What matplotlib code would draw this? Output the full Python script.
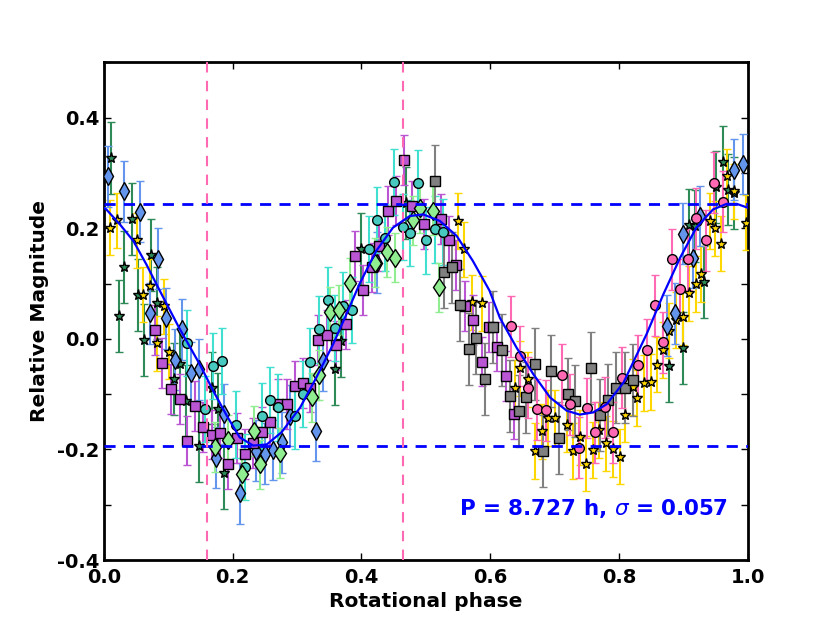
import matplotlib
matplotlib.use("Agg")
import matplotlib.pyplot as plt

# ---------------- data ----------------
gs_x = [0.011, 0.024, 0.032, 0.044, 0.053, 0.063, 0.074, 0.083, 0.109, 0.118, 0.127, 0.148,
        0.168, 0.178, 0.187, 0.359, 0.369, 0.400, 0.470, 0.878, 0.900, 0.909, 0.918, 0.932,
        0.950, 0.961, 0.969, 0.979]
gs_y = [0.327, 0.041, 0.130, 0.217, 0.080, -0.002, 0.152, 0.065, -0.073, -0.046, -0.113, -0.193,
        -0.089, -0.127, -0.243, -0.054, -0.004, 0.162, 0.246, -0.050, -0.017, 0.206, 0.204, 0.103,
        0.274, 0.320, 0.270, 0.264]
gs_err = 0.065

ys_x = [0.009, 0.020, 0.052, 0.061, 0.072, 0.083, 0.093, 0.102, 0.550, 0.559, 0.571, 0.588,
        0.639, 0.647, 0.658, 0.669, 0.681, 0.690, 0.700, 0.720, 0.729, 0.740, 0.749, 0.759,
        0.769, 0.780, 0.790, 0.801, 0.809, 0.821, 0.828, 0.839, 0.849, 0.859, 0.869, 0.878,
        0.889, 0.900, 0.909, 0.920, 0.928, 0.941, 0.949, 0.959, 0.968, 0.978, 0.997]
ys_y = [0.201, 0.214, 0.178, 0.080, 0.095, -0.008, 0.059, -0.023, 0.213, 0.162, 0.066, 0.064,
        -0.088, -0.053, -0.073, -0.203, -0.167, -0.143, -0.143, -0.155, -0.203, -0.178, -0.226, -0.201,
        -0.165, -0.189, -0.199, -0.213, -0.137, -0.087, -0.107, -0.080, -0.078, -0.047, -0.020, 0.015,
        0.034, 0.039, 0.082, 0.099, 0.117, 0.213, 0.200, 0.172, 0.294, 0.267, 0.210]
ys_err = 0.05

bd_x = [0.007, 0.032, 0.057, 0.072, 0.084, 0.096, 0.110, 0.122, 0.135, 0.148, 0.174, 0.187,
        0.212, 0.236, 0.250, 0.263, 0.276, 0.289, 0.329, 0.340, 0.424, 0.874, 0.887, 0.900,
        0.915, 0.926, 0.978, 0.992]
bd_y = [0.294, 0.267, 0.230, 0.046, 0.145, 0.037, -0.038, 0.017, -0.061, -0.055, -0.215, -0.136,
        -0.279, -0.202, -0.208, -0.201, -0.187, -0.139, -0.166, -0.040, 0.138, 0.024, 0.046, 0.190,
        0.147, 0.222, 0.306, 0.316]
bd_err = 0.055

ms_x = [0.079, 0.091, 0.104, 0.118, 0.130, 0.142, 0.154, 0.168, 0.181, 0.193, 0.207, 0.219,
        0.232, 0.245, 0.258, 0.271, 0.284, 0.297, 0.310, 0.321, 0.333, 0.347, 0.360, 0.376,
        0.390, 0.403, 0.416, 0.428, 0.441, 0.454, 0.466, 0.479, 0.497, 0.523, 0.536, 0.547,
        0.561, 0.574, 0.587, 0.598, 0.611, 0.625, 0.637]
ms_y = [0.016, -0.044, -0.091, -0.109, -0.184, -0.121, -0.160, -0.173, -0.171, -0.227, -0.179, -0.208,
        -0.189, -0.169, -0.151, -0.117, -0.118, -0.085, -0.080, -0.088, -0.002, 0.007, -0.012, 0.026,
        0.150, 0.089, 0.129, 0.167, 0.232, 0.250, 0.323, 0.240, 0.207, 0.217, 0.178, 0.133,
        0.059, 0.034, -0.041, 0.022, -0.014, -0.067, -0.136]
ms_err = 0.045

tc_x = [0.129, 0.157, 0.170, 0.183, 0.206, 0.219, 0.245, 0.258, 0.271, 0.297, 0.310, 0.321,
        0.334, 0.348, 0.359, 0.372, 0.385, 0.412, 0.424, 0.437, 0.450, 0.464, 0.475, 0.488,
        0.501, 0.514, 0.527]
tc_y = [-0.007, -0.127, -0.049, -0.040, -0.155, -0.232, -0.139, -0.111, -0.124, -0.139, -0.100, -0.041,
        0.017, 0.070, 0.020, 0.060, 0.052, 0.162, 0.215, 0.183, 0.284, 0.202, 0.191, 0.282,
        0.178, 0.198, 0.193]
tc_err = 0.06

lg_x = [0.172, 0.193, 0.214, 0.233, 0.242, 0.273, 0.323, 0.334, 0.352, 0.365, 0.383, 0.421,
        0.440, 0.452, 0.480, 0.491, 0.511, 0.520]
lg_y = [-0.195, -0.183, -0.245, -0.166, -0.227, -0.207, -0.106, -0.065, 0.048, 0.052, 0.101, 0.138,
        0.157, 0.147, 0.214, 0.236, 0.232, 0.093]
lg_err = 0.045

gy_x = [0.514, 0.528, 0.541, 0.553, 0.567, 0.578, 0.592, 0.604, 0.618, 0.630, 0.644, 0.655,
        0.669, 0.682, 0.695, 0.707, 0.721, 0.731, 0.757, 0.770, 0.783, 0.796, 0.809, 0.821]
gy_y = [0.285, 0.120, 0.129, 0.061, -0.019, 0.002, -0.073, 0.021, -0.020, -0.103, -0.131, -0.106,
        -0.046, -0.203, -0.058, -0.179, -0.099, -0.112, -0.053, -0.137, -0.111, -0.088, -0.088, -0.074]
gy_err = 0.065

pc_x = [0.633, 0.646, 0.659, 0.673, 0.686, 0.712, 0.724, 0.738, 0.750, 0.762, 0.778, 0.791,
        0.804, 0.830, 0.843, 0.856, 0.869, 0.883, 0.895, 0.907, 0.920, 0.935, 0.947, 0.961]
pc_y = [0.023, -0.031, -0.088, -0.127, -0.129, -0.065, -0.118, -0.197, -0.125, -0.169, -0.124, -0.169,
        -0.070, -0.048, -0.020, 0.061, -0.006, 0.144, 0.090, 0.144, 0.218, 0.178, 0.282, 0.248]
pc_err = 0.055

fit_x = [0.000, 0.004, 0.025, 0.046, 0.066, 0.087, 0.117, 0.149, 0.170, 0.191, 0.211, 0.232,
         0.253, 0.276, 0.305, 0.330, 0.356, 0.380, 0.397, 0.423, 0.449, 0.475, 0.496, 0.522,
         0.548, 0.573, 0.599, 0.615, 0.641, 0.667, 0.693, 0.719, 0.739, 0.760, 0.781, 0.807,
         0.825, 0.843, 0.869, 0.895, 0.920, 0.946, 0.967, 0.983, 1.000]
fit_y = [0.237, 0.234, 0.207, 0.177, 0.135, 0.087, 0.020, -0.046, -0.094, -0.139, -0.178, -0.193,
         -0.191, -0.169, -0.124, -0.070, -0.010, 0.053, 0.099, 0.159, 0.201, 0.222, 0.225, 0.213,
         0.186, 0.141, 0.087, 0.038, -0.016, -0.064, -0.106, -0.130, -0.137, -0.133, -0.118, -0.079,
         -0.035, 0.009, 0.081, 0.147, 0.201, 0.234, 0.244, 0.244, 0.237]

hlines_y = [0.243, -0.193]
vlines_x = [0.160, 0.464]
x_ticks = [0.0, 0.2, 0.4, 0.6, 0.8, 1.0]
y_ticks = [-0.4, -0.3, -0.2, -0.1, 0.0, 0.1, 0.2, 0.3, 0.4, 0.5]
y_ticklabels = ['-0.4', '', '-0.2', '', '0.0', '', '0.2', '', '0.4', '']
annot = r'P = 8.727 h, $\sigma$ = 0.057'

# ---------------- figure ----------------
plt.rcParams['font.family'] = ['DejaVu Sans']
plt.rcParams['font.weight'] = 'bold'
plt.rcParams['mathtext.fontset'] = 'custom'
plt.rcParams['mathtext.it'] = 'DejaVu Sans:italic:normal'
plt.rcParams['mathtext.rm'] = 'DejaVu Sans:normal'

fig = plt.figure(figsize=(8.3, 6.23), dpi=100)
ax = fig.add_axes([0.125, 0.101, 0.776, 0.799])

series = [
    (gs_x, gs_y, gs_err, '*', '#2E8B57', '#2E8B57', 8),
    (ys_x, ys_y, ys_err, '*', '#FFD700', '#FFD700', 8),
    (bd_x, bd_y, bd_err, 'd', '#6495ED', '#6495ED', 9),
    (ms_x, ms_y, ms_err, 's', '#BA55D3', '#BA55D3', 7),
    (tc_x, tc_y, tc_err, 'o', '#48C9C0', '#40E0D0', 7),
    (lg_x, lg_y, lg_err, 'd', '#90EE90', '#90EE90', 9.5),
    (gy_x, gy_y, gy_err, 's', '#808080', '#808080', 7),
    (pc_x, pc_y, pc_err, 'o', '#FF69B4', '#FF69B4', 7),
]

for xs, ys, err, mk, fc, ec, ms in series:
    ax.errorbar(xs, ys, yerr=err, fmt=mk, mfc=fc, mec='black', mew=1.0, ms=ms,
                ecolor=ec, elinewidth=1.5, capsize=3, capthick=1.5, zorder=3)

ax.plot(fit_x, fit_y, color='blue', lw=1.6, zorder=5)
for yv in hlines_y:
    ax.axhline(yv, color='blue', lw=2, ls=(0, (4, 3)), zorder=4)
for xv in vlines_x:
    ax.axvline(xv, color='#FF69B4', lw=1.5, ls=(0, (5, 4)), zorder=4)

ax.text(0.551, -0.306, annot, color='blue', fontsize=15.5, fontweight='bold',
        ha='left', va='center', zorder=6)

ax.set_xlim(0.0, 1.0)
ax.set_ylim(-0.4, 0.5)
ax.set_xticks(x_ticks)
ax.set_xticklabels(['%.1f' % v for v in x_ticks])
ax.set_yticks(y_ticks)
ax.set_yticklabels(y_ticklabels)
ax.tick_params(direction='in', length=5, width=1, top=True, right=True, labelsize=14)
ax.tick_params(axis='y', pad=3)
ax.tick_params(axis='x', pad=6)
for lab in ax.get_xticklabels() + ax.get_yticklabels():
    lab.set_fontweight('bold')
for sp in ax.spines.values():
    sp.set_linewidth(2)

ax.set_xlabel('Rotational phase', fontsize=14.5, fontweight='bold', labelpad=3)
ax.set_ylabel('Relative Magnitude', fontsize=14.5, fontweight='bold', labelpad=6)

fig.savefig('out.png', dpi=100)
